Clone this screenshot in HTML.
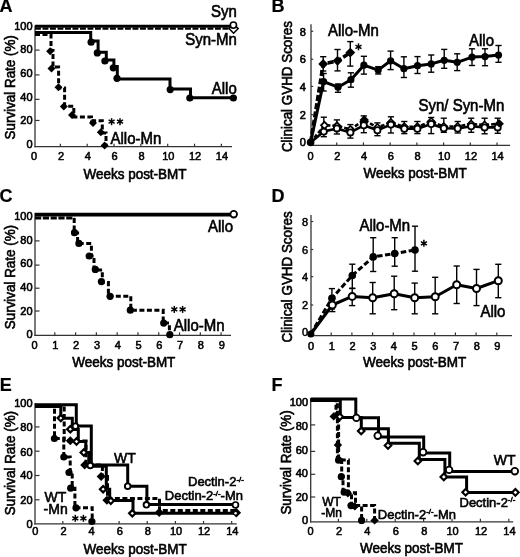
<!DOCTYPE html>
<html><head><meta charset="utf-8"><style>
html,body{margin:0;padding:0;background:#fff;}
svg{display:block;font-family:"Liberation Sans", sans-serif;will-change:transform;}
</style></head><body>
<svg width="520" height="557" viewBox="0 0 520 557">
<rect width="520" height="557" fill="#fff"/>
<text x="-0.5" y="12.4" font-size="18.00" text-anchor="start" font-weight="bold" fill="#000" stroke="#000" stroke-width="0.2">A</text>
<line x1="35.00" y1="25.50" x2="35.00" y2="147.30" stroke="#333" stroke-width="1.3" stroke-linecap="butt"/>
<line x1="34.40" y1="146.70" x2="232.00" y2="146.70" stroke="#333" stroke-width="1.3" stroke-linecap="butt"/>
<text x="32.6" y="147.9" font-size="11.00" text-anchor="end" font-weight="normal" fill="#000" stroke="#000" stroke-width="0.6">0</text>
<line x1="35.00" y1="120.46" x2="39.50" y2="120.46" stroke="#333" stroke-width="1.2" stroke-linecap="butt"/>
<text x="32.6" y="124.30000000000001" font-size="11.00" text-anchor="end" font-weight="normal" fill="#000" stroke="#000" stroke-width="0.6">20</text>
<line x1="35.00" y1="99.35" x2="39.50" y2="99.35" stroke="#333" stroke-width="1.2" stroke-linecap="butt"/>
<text x="32.6" y="100.55000000000001" font-size="11.00" text-anchor="end" font-weight="normal" fill="#000" stroke="#000" stroke-width="0.6">40</text>
<line x1="35.00" y1="74.90" x2="39.50" y2="74.90" stroke="#333" stroke-width="1.2" stroke-linecap="butt"/>
<text x="32.6" y="76.9" font-size="11.00" text-anchor="end" font-weight="normal" fill="#000" stroke="#000" stroke-width="0.6">60</text>
<line x1="35.00" y1="50.10" x2="39.50" y2="50.10" stroke="#333" stroke-width="1.2" stroke-linecap="butt"/>
<text x="32.6" y="53.3" font-size="11.00" text-anchor="end" font-weight="normal" fill="#000" stroke="#000" stroke-width="0.6">80</text>
<text x="32.6" y="29.7" font-size="11.00" text-anchor="end" font-weight="normal" fill="#000" stroke="#000" stroke-width="0.6">100</text>
<text x="34.1" y="159.8" font-size="11.00" text-anchor="middle" font-weight="normal" fill="#000" stroke="#000" stroke-width="0.55">0</text>
<line x1="60.34" y1="146.70" x2="60.34" y2="143.70" stroke="#333" stroke-width="1.2" stroke-linecap="butt"/>
<text x="60.940000000000005" y="159.8" font-size="11.00" text-anchor="middle" font-weight="normal" fill="#000" stroke="#000" stroke-width="0.55">2</text>
<line x1="87.18" y1="146.70" x2="87.18" y2="143.70" stroke="#333" stroke-width="1.2" stroke-linecap="butt"/>
<text x="87.78" y="159.8" font-size="11.00" text-anchor="middle" font-weight="normal" fill="#000" stroke="#000" stroke-width="0.55">4</text>
<line x1="114.02" y1="146.70" x2="114.02" y2="143.70" stroke="#333" stroke-width="1.2" stroke-linecap="butt"/>
<text x="114.61999999999999" y="159.8" font-size="11.00" text-anchor="middle" font-weight="normal" fill="#000" stroke="#000" stroke-width="0.55">6</text>
<line x1="140.86" y1="146.70" x2="140.86" y2="143.70" stroke="#333" stroke-width="1.2" stroke-linecap="butt"/>
<text x="141.46" y="159.8" font-size="11.00" text-anchor="middle" font-weight="normal" fill="#000" stroke="#000" stroke-width="0.55">8</text>
<line x1="167.70" y1="146.70" x2="167.70" y2="143.70" stroke="#333" stroke-width="1.2" stroke-linecap="butt"/>
<text x="168.29999999999998" y="159.8" font-size="11.00" text-anchor="middle" font-weight="normal" fill="#000" stroke="#000" stroke-width="0.55">10</text>
<line x1="194.54" y1="146.70" x2="194.54" y2="143.70" stroke="#333" stroke-width="1.2" stroke-linecap="butt"/>
<text x="195.14" y="159.8" font-size="11.00" text-anchor="middle" font-weight="normal" fill="#000" stroke="#000" stroke-width="0.55">12</text>
<line x1="221.38" y1="146.70" x2="221.38" y2="143.70" stroke="#333" stroke-width="1.2" stroke-linecap="butt"/>
<text x="221.98" y="159.8" font-size="11.00" text-anchor="middle" font-weight="normal" fill="#000" stroke="#000" stroke-width="0.55">14</text>
<text x="135" y="178.9" font-size="13.91" text-anchor="middle" font-weight="normal" fill="#000" stroke="#000" stroke-width="0.6" transform="translate(135 178.9) scale(0.9709 1) translate(-135 -178.9)">Weeks post-BMT</text>
<text x="14.8" y="87.3" font-size="13.80" text-anchor="middle" font-weight="normal" fill="#000" stroke="#000" stroke-width="0.6" transform="rotate(-90 14.8 87.3) translate(14.8 87.3) scale(0.9709 1) translate(-14.8 -87.3)">Survival Rate (%)</text>
<polyline points="35.00,26.30 233.50,26.30" fill="none" stroke="#000" stroke-width="2.9" stroke-linejoin="miter" stroke-linecap="butt"/>
<polyline points="35.00,28.70 234.00,28.70" fill="none" stroke="#000" stroke-width="2.3" stroke-linejoin="miter" stroke-linecap="butt" stroke-dasharray="5.9 1.6"/>
<polyline points="35.00,32.40 90.70,32.40 90.70,41.00 98.10,41.00 98.10,52.30 106.30,52.30 106.30,60.10 113.90,60.10 113.90,66.50 117.30,66.50 117.30,79.00 170.00,79.00 170.00,89.00 190.50,89.00 190.50,97.70 233.40,97.70 233.40,97.70" fill="none" stroke="#000" stroke-width="3.0" stroke-linejoin="miter" stroke-linecap="butt"/>
<circle cx="91.10" cy="42.20" r="3.6" fill="#000" stroke="#000" stroke-width="0"/>
<circle cx="97.30" cy="52.90" r="3.6" fill="#000" stroke="#000" stroke-width="0"/>
<circle cx="104.90" cy="61.00" r="3.6" fill="#000" stroke="#000" stroke-width="0"/>
<circle cx="113.30" cy="67.80" r="3.6" fill="#000" stroke="#000" stroke-width="0"/>
<circle cx="117.00" cy="78.30" r="3.6" fill="#000" stroke="#000" stroke-width="0"/>
<circle cx="170.20" cy="89.60" r="3.6" fill="#000" stroke="#000" stroke-width="0"/>
<circle cx="189.80" cy="98.00" r="3.6" fill="#000" stroke="#000" stroke-width="0"/>
<circle cx="233.40" cy="98.00" r="3.6" fill="#000" stroke="#000" stroke-width="0"/>
<polyline points="35.00,34.40 51.00,34.40 51.00,50.50 53.00,50.50 53.00,67.00 58.60,67.00 58.60,88.00 64.60,88.00 64.60,106.20 73.80,106.20 73.80,117.00 91.50,117.00 91.50,120.80 102.30,120.80 102.30,133.00 106.00,133.00 106.00,146.00" fill="none" stroke="#000" stroke-width="3.0" stroke-linejoin="miter" stroke-linecap="butt" stroke-dasharray="5 2.5"/>
<polygon points="50.10,47.20 54.10,51.20 50.10,55.20 46.10,51.20" fill="#000" stroke="#000" stroke-width="0"/>
<polygon points="51.50,64.50 55.50,68.50 51.50,72.50 47.50,68.50" fill="#000" stroke="#000" stroke-width="0"/>
<polygon points="58.50,83.20 62.50,87.20 58.50,91.20 54.50,87.20" fill="#000" stroke="#000" stroke-width="0"/>
<polygon points="63.80,102.60 67.80,106.60 63.80,110.60 59.80,106.60" fill="#000" stroke="#000" stroke-width="0"/>
<polygon points="72.00,110.90 76.00,114.90 72.00,118.90 68.00,114.90" fill="#000" stroke="#000" stroke-width="0"/>
<polygon points="93.00,119.00 97.00,123.00 93.00,127.00 89.00,123.00" fill="#000" stroke="#000" stroke-width="0"/>
<polygon points="100.80,128.30 104.80,132.30 100.80,136.30 96.80,132.30" fill="#000" stroke="#000" stroke-width="0"/>
<polygon points="104.60,141.40 108.60,145.40 104.60,149.40 100.60,145.40" fill="#000" stroke="#000" stroke-width="0"/>
<polygon points="233.60,24.00 238.20,28.60 233.60,33.20 229.00,28.60" fill="#fff" stroke="#000" stroke-width="1.5"/>
<circle cx="233.40" cy="25.10" r="3.1" fill="#fff" stroke="#000" stroke-width="1.6"/>
<text x="236.8" y="17.4" font-size="15.90" text-anchor="end" font-weight="normal" fill="#000" stroke="#000" stroke-width="0.6" transform="translate(236.8 17.4) scale(0.9434 1) translate(-236.8 -17.4)">Syn</text>
<text x="236.8" y="45.0" font-size="15.90" text-anchor="end" font-weight="normal" fill="#000" stroke="#000" stroke-width="0.6" transform="translate(236.8 45.0) scale(0.9434 1) translate(-236.8 -45.0)">Syn-Mn</text>
<text x="236.8" y="93.60000000000001" font-size="15.90" text-anchor="end" font-weight="normal" fill="#000" stroke="#000" stroke-width="0.6" transform="translate(236.8 93.60000000000001) scale(0.9434 1) translate(-236.8 -93.60000000000001)">Allo</text>
<text x="110.5" y="143.9" font-size="15.90" text-anchor="start" font-weight="normal" fill="#000" stroke="#000" stroke-width="0.6" transform="translate(110.5 143.9) scale(0.9434 1) translate(-110.5 -143.9)">Allo-Mn</text>
<line x1="111.60" y1="118.20" x2="111.60" y2="125.20" stroke="#000" stroke-width="1.5" stroke-linecap="butt"/>
<line x1="108.57" y1="119.95" x2="114.63" y2="123.45" stroke="#000" stroke-width="1.5" stroke-linecap="butt"/>
<line x1="114.63" y1="119.95" x2="108.57" y2="123.45" stroke="#000" stroke-width="1.5" stroke-linecap="butt"/>
<circle cx="111.60" cy="121.70" r="1.3" fill="#000" stroke="#000" stroke-width="0"/>
<line x1="120.00" y1="118.20" x2="120.00" y2="125.20" stroke="#000" stroke-width="1.5" stroke-linecap="butt"/>
<line x1="116.97" y1="119.95" x2="123.03" y2="123.45" stroke="#000" stroke-width="1.5" stroke-linecap="butt"/>
<line x1="123.03" y1="119.95" x2="116.97" y2="123.45" stroke="#000" stroke-width="1.5" stroke-linecap="butt"/>
<circle cx="120.00" cy="121.70" r="1.3" fill="#000" stroke="#000" stroke-width="0"/>
<text x="271.6" y="12.4" font-size="18.00" text-anchor="start" font-weight="bold" fill="#000" stroke="#000" stroke-width="0.2">B</text>
<line x1="311.00" y1="24.30" x2="311.00" y2="146.00" stroke="#333" stroke-width="1.3" stroke-linecap="butt"/>
<line x1="310.40" y1="145.40" x2="510.00" y2="145.40" stroke="#333" stroke-width="1.3" stroke-linecap="butt"/>
<text x="305.9" y="145.8" font-size="11.00" text-anchor="end" font-weight="normal" fill="#000" stroke="#000" stroke-width="0.6">0</text>
<line x1="311.00" y1="114.70" x2="313.20" y2="114.70" stroke="#333" stroke-width="1.2" stroke-linecap="butt"/>
<text x="305.9" y="119.10000000000001" font-size="11.00" text-anchor="end" font-weight="normal" fill="#000" stroke="#000" stroke-width="0.6">2</text>
<line x1="311.00" y1="86.40" x2="313.20" y2="86.40" stroke="#333" stroke-width="1.2" stroke-linecap="butt"/>
<text x="305.9" y="91.10000000000001" font-size="11.00" text-anchor="end" font-weight="normal" fill="#000" stroke="#000" stroke-width="0.6">4</text>
<line x1="311.00" y1="59.20" x2="313.20" y2="59.20" stroke="#333" stroke-width="1.2" stroke-linecap="butt"/>
<text x="305.9" y="63.3" font-size="11.00" text-anchor="end" font-weight="normal" fill="#000" stroke="#000" stroke-width="0.6">6</text>
<line x1="311.00" y1="31.25" x2="313.20" y2="31.25" stroke="#333" stroke-width="1.2" stroke-linecap="butt"/>
<text x="305.9" y="35.6" font-size="11.00" text-anchor="end" font-weight="normal" fill="#000" stroke="#000" stroke-width="0.6">8</text>
<text x="310.6" y="159.9" font-size="11.00" text-anchor="middle" font-weight="normal" fill="#000" stroke="#000" stroke-width="0.55">0</text>
<line x1="336.72" y1="145.40" x2="336.72" y2="142.40" stroke="#333" stroke-width="1.2" stroke-linecap="butt"/>
<text x="337.32000000000005" y="159.9" font-size="11.00" text-anchor="middle" font-weight="normal" fill="#000" stroke="#000" stroke-width="0.55">2</text>
<line x1="363.44" y1="145.40" x2="363.44" y2="142.40" stroke="#333" stroke-width="1.2" stroke-linecap="butt"/>
<text x="364.04" y="159.9" font-size="11.00" text-anchor="middle" font-weight="normal" fill="#000" stroke="#000" stroke-width="0.55">4</text>
<line x1="390.16" y1="145.40" x2="390.16" y2="142.40" stroke="#333" stroke-width="1.2" stroke-linecap="butt"/>
<text x="390.76" y="159.9" font-size="11.00" text-anchor="middle" font-weight="normal" fill="#000" stroke="#000" stroke-width="0.55">6</text>
<line x1="416.88" y1="145.40" x2="416.88" y2="142.40" stroke="#333" stroke-width="1.2" stroke-linecap="butt"/>
<text x="417.48" y="159.9" font-size="11.00" text-anchor="middle" font-weight="normal" fill="#000" stroke="#000" stroke-width="0.55">8</text>
<line x1="443.60" y1="145.40" x2="443.60" y2="142.40" stroke="#333" stroke-width="1.2" stroke-linecap="butt"/>
<text x="444.20000000000005" y="159.9" font-size="11.00" text-anchor="middle" font-weight="normal" fill="#000" stroke="#000" stroke-width="0.55">10</text>
<line x1="470.32" y1="145.40" x2="470.32" y2="142.40" stroke="#333" stroke-width="1.2" stroke-linecap="butt"/>
<text x="470.92" y="159.9" font-size="11.00" text-anchor="middle" font-weight="normal" fill="#000" stroke="#000" stroke-width="0.55">12</text>
<line x1="497.04" y1="145.40" x2="497.04" y2="142.40" stroke="#333" stroke-width="1.2" stroke-linecap="butt"/>
<text x="497.64" y="159.9" font-size="11.00" text-anchor="middle" font-weight="normal" fill="#000" stroke="#000" stroke-width="0.55">14</text>
<text x="415.1" y="178.20000000000002" font-size="13.91" text-anchor="middle" font-weight="normal" fill="#000" stroke="#000" stroke-width="0.6" transform="translate(415.1 178.20000000000002) scale(0.9709 1) translate(-415.1 -178.20000000000002)">Weeks post-BMT</text>
<text x="292.3" y="86.6" font-size="13.80" text-anchor="middle" font-weight="normal" fill="#000" stroke="#000" stroke-width="0.6" transform="rotate(-90 292.3 86.6) translate(292.3 86.6) scale(0.9709 1) translate(-292.3 -86.6)">Clinical GVHD Scores</text>
<line x1="323.80" y1="117.20" x2="323.80" y2="136.70" stroke="#000" stroke-width="1.4" stroke-linecap="butt"/>
<line x1="320.70" y1="117.20" x2="326.90" y2="117.20" stroke="#000" stroke-width="1.4" stroke-linecap="butt"/>
<line x1="320.70" y1="136.70" x2="326.90" y2="136.70" stroke="#000" stroke-width="1.4" stroke-linecap="butt"/>
<line x1="336.90" y1="119.90" x2="336.90" y2="134.00" stroke="#000" stroke-width="1.4" stroke-linecap="butt"/>
<line x1="333.80" y1="119.90" x2="340.00" y2="119.90" stroke="#000" stroke-width="1.4" stroke-linecap="butt"/>
<line x1="333.80" y1="134.00" x2="340.00" y2="134.00" stroke="#000" stroke-width="1.4" stroke-linecap="butt"/>
<line x1="350.40" y1="124.60" x2="350.40" y2="138.10" stroke="#000" stroke-width="1.4" stroke-linecap="butt"/>
<line x1="347.30" y1="124.60" x2="353.50" y2="124.60" stroke="#000" stroke-width="1.4" stroke-linecap="butt"/>
<line x1="347.30" y1="138.10" x2="353.50" y2="138.10" stroke="#000" stroke-width="1.4" stroke-linecap="butt"/>
<line x1="363.80" y1="115.90" x2="363.80" y2="132.70" stroke="#000" stroke-width="1.4" stroke-linecap="butt"/>
<line x1="360.70" y1="115.90" x2="366.90" y2="115.90" stroke="#000" stroke-width="1.4" stroke-linecap="butt"/>
<line x1="360.70" y1="132.70" x2="366.90" y2="132.70" stroke="#000" stroke-width="1.4" stroke-linecap="butt"/>
<line x1="377.40" y1="122.90" x2="377.40" y2="135.70" stroke="#000" stroke-width="1.4" stroke-linecap="butt"/>
<line x1="374.30" y1="122.90" x2="380.50" y2="122.90" stroke="#000" stroke-width="1.4" stroke-linecap="butt"/>
<line x1="374.30" y1="135.70" x2="380.50" y2="135.70" stroke="#000" stroke-width="1.4" stroke-linecap="butt"/>
<line x1="390.90" y1="116.80" x2="390.90" y2="133.00" stroke="#000" stroke-width="1.4" stroke-linecap="butt"/>
<line x1="387.80" y1="116.80" x2="394.00" y2="116.80" stroke="#000" stroke-width="1.4" stroke-linecap="butt"/>
<line x1="387.80" y1="133.00" x2="394.00" y2="133.00" stroke="#000" stroke-width="1.4" stroke-linecap="butt"/>
<line x1="404.30" y1="121.50" x2="404.30" y2="133.60" stroke="#000" stroke-width="1.4" stroke-linecap="butt"/>
<line x1="401.20" y1="121.50" x2="407.40" y2="121.50" stroke="#000" stroke-width="1.4" stroke-linecap="butt"/>
<line x1="401.20" y1="133.60" x2="407.40" y2="133.60" stroke="#000" stroke-width="1.4" stroke-linecap="butt"/>
<line x1="417.40" y1="121.50" x2="417.40" y2="133.60" stroke="#000" stroke-width="1.4" stroke-linecap="butt"/>
<line x1="414.30" y1="121.50" x2="420.50" y2="121.50" stroke="#000" stroke-width="1.4" stroke-linecap="butt"/>
<line x1="414.30" y1="133.60" x2="420.50" y2="133.60" stroke="#000" stroke-width="1.4" stroke-linecap="butt"/>
<line x1="431.20" y1="117.50" x2="431.20" y2="133.60" stroke="#000" stroke-width="1.4" stroke-linecap="butt"/>
<line x1="428.10" y1="117.50" x2="434.30" y2="117.50" stroke="#000" stroke-width="1.4" stroke-linecap="butt"/>
<line x1="428.10" y1="133.60" x2="434.30" y2="133.60" stroke="#000" stroke-width="1.4" stroke-linecap="butt"/>
<line x1="443.80" y1="118.20" x2="443.80" y2="132.30" stroke="#000" stroke-width="1.4" stroke-linecap="butt"/>
<line x1="440.70" y1="118.20" x2="446.90" y2="118.20" stroke="#000" stroke-width="1.4" stroke-linecap="butt"/>
<line x1="440.70" y1="132.30" x2="446.90" y2="132.30" stroke="#000" stroke-width="1.4" stroke-linecap="butt"/>
<line x1="457.70" y1="121.50" x2="457.70" y2="133.00" stroke="#000" stroke-width="1.4" stroke-linecap="butt"/>
<line x1="454.60" y1="121.50" x2="460.80" y2="121.50" stroke="#000" stroke-width="1.4" stroke-linecap="butt"/>
<line x1="454.60" y1="133.00" x2="460.80" y2="133.00" stroke="#000" stroke-width="1.4" stroke-linecap="butt"/>
<line x1="471.20" y1="118.20" x2="471.20" y2="132.30" stroke="#000" stroke-width="1.4" stroke-linecap="butt"/>
<line x1="468.10" y1="118.20" x2="474.30" y2="118.20" stroke="#000" stroke-width="1.4" stroke-linecap="butt"/>
<line x1="468.10" y1="132.30" x2="474.30" y2="132.30" stroke="#000" stroke-width="1.4" stroke-linecap="butt"/>
<line x1="484.60" y1="118.20" x2="484.60" y2="133.80" stroke="#000" stroke-width="1.4" stroke-linecap="butt"/>
<line x1="481.50" y1="118.20" x2="487.70" y2="118.20" stroke="#000" stroke-width="1.4" stroke-linecap="butt"/>
<line x1="481.50" y1="133.80" x2="487.70" y2="133.80" stroke="#000" stroke-width="1.4" stroke-linecap="butt"/>
<line x1="497.70" y1="118.20" x2="497.70" y2="133.30" stroke="#000" stroke-width="1.4" stroke-linecap="butt"/>
<line x1="494.60" y1="118.20" x2="500.80" y2="118.20" stroke="#000" stroke-width="1.4" stroke-linecap="butt"/>
<line x1="494.60" y1="133.30" x2="500.80" y2="133.30" stroke="#000" stroke-width="1.4" stroke-linecap="butt"/>
<polyline points="310.60,142.40 324.50,125.30 337.00,125.80 350.40,129.50 364.20,119.90 377.40,127.50 390.90,122.50 404.30,126.80 417.40,126.80 431.20,121.50 443.80,126.50 457.70,126.50 471.20,124.00 484.60,125.00 499.20,123.80" fill="none" stroke="#000" stroke-width="2.6" stroke-linejoin="round" stroke-linecap="butt" stroke-dasharray="4 2"/>
<polyline points="310.60,142.40 323.80,131.60 336.90,128.40 350.40,132.40 363.80,125.30 377.40,130.30 390.90,124.60 404.30,128.70 417.40,128.70 431.20,124.00 443.80,128.20 457.70,128.50 471.20,126.20 484.60,127.40 497.70,127.40" fill="none" stroke="#000" stroke-width="2.6" stroke-linejoin="round" stroke-linecap="butt"/>
<polygon points="324.50,121.80 328.00,125.30 324.50,128.80 321.00,125.30" fill="#fff" stroke="#000" stroke-width="1.7"/>
<polygon points="337.00,122.30 340.50,125.80 337.00,129.30 333.50,125.80" fill="#fff" stroke="#000" stroke-width="1.7"/>
<polygon points="350.40,126.00 353.90,129.50 350.40,133.00 346.90,129.50" fill="#fff" stroke="#000" stroke-width="1.7"/>
<polygon points="364.20,116.40 367.70,119.90 364.20,123.40 360.70,119.90" fill="#fff" stroke="#000" stroke-width="1.7"/>
<polygon points="377.40,124.00 380.90,127.50 377.40,131.00 373.90,127.50" fill="#fff" stroke="#000" stroke-width="1.7"/>
<polygon points="390.90,119.00 394.40,122.50 390.90,126.00 387.40,122.50" fill="#fff" stroke="#000" stroke-width="1.7"/>
<polygon points="404.30,123.30 407.80,126.80 404.30,130.30 400.80,126.80" fill="#fff" stroke="#000" stroke-width="1.7"/>
<polygon points="417.40,123.30 420.90,126.80 417.40,130.30 413.90,126.80" fill="#fff" stroke="#000" stroke-width="1.7"/>
<polygon points="431.20,118.00 434.70,121.50 431.20,125.00 427.70,121.50" fill="#fff" stroke="#000" stroke-width="1.7"/>
<polygon points="443.80,123.00 447.30,126.50 443.80,130.00 440.30,126.50" fill="#fff" stroke="#000" stroke-width="1.7"/>
<polygon points="457.70,123.00 461.20,126.50 457.70,130.00 454.20,126.50" fill="#fff" stroke="#000" stroke-width="1.7"/>
<polygon points="471.20,120.50 474.70,124.00 471.20,127.50 467.70,124.00" fill="#fff" stroke="#000" stroke-width="1.7"/>
<polygon points="484.60,121.50 488.10,125.00 484.60,128.50 481.10,125.00" fill="#fff" stroke="#000" stroke-width="1.7"/>
<polygon points="499.20,120.30 502.70,123.80 499.20,127.30 495.70,123.80" fill="#fff" stroke="#000" stroke-width="1.7"/>
<circle cx="323.80" cy="131.60" r="3.1" fill="#fff" stroke="#000" stroke-width="1.8"/>
<circle cx="336.90" cy="128.40" r="3.1" fill="#fff" stroke="#000" stroke-width="1.8"/>
<circle cx="350.40" cy="132.40" r="3.1" fill="#fff" stroke="#000" stroke-width="1.8"/>
<circle cx="363.80" cy="125.30" r="3.1" fill="#fff" stroke="#000" stroke-width="1.8"/>
<circle cx="377.40" cy="130.30" r="3.1" fill="#fff" stroke="#000" stroke-width="1.8"/>
<circle cx="390.90" cy="124.60" r="3.1" fill="#fff" stroke="#000" stroke-width="1.8"/>
<circle cx="404.30" cy="128.70" r="3.1" fill="#fff" stroke="#000" stroke-width="1.8"/>
<circle cx="417.40" cy="128.70" r="3.1" fill="#fff" stroke="#000" stroke-width="1.8"/>
<circle cx="431.20" cy="124.00" r="3.1" fill="#fff" stroke="#000" stroke-width="1.8"/>
<circle cx="443.80" cy="128.20" r="3.1" fill="#fff" stroke="#000" stroke-width="1.8"/>
<circle cx="457.70" cy="128.50" r="3.1" fill="#fff" stroke="#000" stroke-width="1.8"/>
<circle cx="471.20" cy="126.20" r="3.1" fill="#fff" stroke="#000" stroke-width="1.8"/>
<circle cx="484.60" cy="127.40" r="3.1" fill="#fff" stroke="#000" stroke-width="1.8"/>
<circle cx="497.70" cy="127.40" r="3.1" fill="#fff" stroke="#000" stroke-width="1.8"/>
<polygon points="364.20,116.30 367.80,119.90 364.20,123.50 360.60,119.90" fill="#000" stroke="#000" stroke-width="0"/>
<polygon points="499.20,120.20 502.80,123.80 499.20,127.40 495.60,123.80" fill="#000" stroke="#000" stroke-width="0"/>
<line x1="323.60" y1="73.50" x2="323.60" y2="91.00" stroke="#000" stroke-width="1.4" stroke-linecap="butt"/>
<line x1="320.50" y1="73.50" x2="326.70" y2="73.50" stroke="#000" stroke-width="1.4" stroke-linecap="butt"/>
<line x1="320.50" y1="91.00" x2="326.70" y2="91.00" stroke="#000" stroke-width="1.4" stroke-linecap="butt"/>
<line x1="338.00" y1="84.00" x2="338.00" y2="92.30" stroke="#000" stroke-width="1.4" stroke-linecap="butt"/>
<line x1="334.90" y1="84.00" x2="341.10" y2="84.00" stroke="#000" stroke-width="1.4" stroke-linecap="butt"/>
<line x1="334.90" y1="92.30" x2="341.10" y2="92.30" stroke="#000" stroke-width="1.4" stroke-linecap="butt"/>
<line x1="350.90" y1="72.80" x2="350.90" y2="87.20" stroke="#000" stroke-width="1.4" stroke-linecap="butt"/>
<line x1="347.80" y1="72.80" x2="354.00" y2="72.80" stroke="#000" stroke-width="1.4" stroke-linecap="butt"/>
<line x1="347.80" y1="87.20" x2="354.00" y2="87.20" stroke="#000" stroke-width="1.4" stroke-linecap="butt"/>
<line x1="363.90" y1="56.30" x2="363.90" y2="74.10" stroke="#000" stroke-width="1.4" stroke-linecap="butt"/>
<line x1="360.80" y1="56.30" x2="367.00" y2="56.30" stroke="#000" stroke-width="1.4" stroke-linecap="butt"/>
<line x1="360.80" y1="74.10" x2="367.00" y2="74.10" stroke="#000" stroke-width="1.4" stroke-linecap="butt"/>
<line x1="378.20" y1="66.70" x2="378.20" y2="74.00" stroke="#000" stroke-width="1.4" stroke-linecap="butt"/>
<line x1="375.10" y1="66.70" x2="381.30" y2="66.70" stroke="#000" stroke-width="1.4" stroke-linecap="butt"/>
<line x1="375.10" y1="74.00" x2="381.30" y2="74.00" stroke="#000" stroke-width="1.4" stroke-linecap="butt"/>
<line x1="390.60" y1="51.10" x2="390.60" y2="69.60" stroke="#000" stroke-width="1.4" stroke-linecap="butt"/>
<line x1="387.50" y1="51.10" x2="393.70" y2="51.10" stroke="#000" stroke-width="1.4" stroke-linecap="butt"/>
<line x1="387.50" y1="69.60" x2="393.70" y2="69.60" stroke="#000" stroke-width="1.4" stroke-linecap="butt"/>
<line x1="403.90" y1="56.80" x2="403.90" y2="77.50" stroke="#000" stroke-width="1.4" stroke-linecap="butt"/>
<line x1="400.80" y1="56.80" x2="407.00" y2="56.80" stroke="#000" stroke-width="1.4" stroke-linecap="butt"/>
<line x1="400.80" y1="77.50" x2="407.00" y2="77.50" stroke="#000" stroke-width="1.4" stroke-linecap="butt"/>
<line x1="417.50" y1="56.60" x2="417.50" y2="73.50" stroke="#000" stroke-width="1.4" stroke-linecap="butt"/>
<line x1="414.40" y1="56.60" x2="420.60" y2="56.60" stroke="#000" stroke-width="1.4" stroke-linecap="butt"/>
<line x1="414.40" y1="73.50" x2="420.60" y2="73.50" stroke="#000" stroke-width="1.4" stroke-linecap="butt"/>
<line x1="431.20" y1="55.00" x2="431.20" y2="72.20" stroke="#000" stroke-width="1.4" stroke-linecap="butt"/>
<line x1="428.10" y1="55.00" x2="434.30" y2="55.00" stroke="#000" stroke-width="1.4" stroke-linecap="butt"/>
<line x1="428.10" y1="72.20" x2="434.30" y2="72.20" stroke="#000" stroke-width="1.4" stroke-linecap="butt"/>
<line x1="444.20" y1="49.40" x2="444.20" y2="68.30" stroke="#000" stroke-width="1.4" stroke-linecap="butt"/>
<line x1="441.10" y1="49.40" x2="447.30" y2="49.40" stroke="#000" stroke-width="1.4" stroke-linecap="butt"/>
<line x1="441.10" y1="68.30" x2="447.30" y2="68.30" stroke="#000" stroke-width="1.4" stroke-linecap="butt"/>
<line x1="457.20" y1="53.80" x2="457.20" y2="70.60" stroke="#000" stroke-width="1.4" stroke-linecap="butt"/>
<line x1="454.10" y1="53.80" x2="460.30" y2="53.80" stroke="#000" stroke-width="1.4" stroke-linecap="butt"/>
<line x1="454.10" y1="70.60" x2="460.30" y2="70.60" stroke="#000" stroke-width="1.4" stroke-linecap="butt"/>
<line x1="472.00" y1="48.80" x2="472.00" y2="65.50" stroke="#000" stroke-width="1.4" stroke-linecap="butt"/>
<line x1="468.90" y1="48.80" x2="475.10" y2="48.80" stroke="#000" stroke-width="1.4" stroke-linecap="butt"/>
<line x1="468.90" y1="65.50" x2="475.10" y2="65.50" stroke="#000" stroke-width="1.4" stroke-linecap="butt"/>
<line x1="485.00" y1="48.80" x2="485.00" y2="65.70" stroke="#000" stroke-width="1.4" stroke-linecap="butt"/>
<line x1="481.90" y1="48.80" x2="488.10" y2="48.80" stroke="#000" stroke-width="1.4" stroke-linecap="butt"/>
<line x1="481.90" y1="65.70" x2="488.10" y2="65.70" stroke="#000" stroke-width="1.4" stroke-linecap="butt"/>
<line x1="498.50" y1="45.50" x2="498.50" y2="62.30" stroke="#000" stroke-width="1.4" stroke-linecap="butt"/>
<line x1="495.40" y1="45.50" x2="501.60" y2="45.50" stroke="#000" stroke-width="1.4" stroke-linecap="butt"/>
<line x1="495.40" y1="62.30" x2="501.60" y2="62.30" stroke="#000" stroke-width="1.4" stroke-linecap="butt"/>
<polyline points="310.60,142.40 323.60,81.60 338.00,87.20 350.90,79.70 363.90,65.20 378.20,70.10 390.60,60.80 403.90,68.70 417.50,65.70 431.20,63.90 444.20,60.30 457.20,62.30 472.00,57.10 485.00,56.60 498.50,55.10" fill="none" stroke="#000" stroke-width="3.0" stroke-linejoin="round" stroke-linecap="butt"/>
<circle cx="323.60" cy="81.60" r="3.6" fill="#000" stroke="#000" stroke-width="0"/>
<circle cx="338.00" cy="87.20" r="3.6" fill="#000" stroke="#000" stroke-width="0"/>
<circle cx="350.90" cy="79.70" r="3.6" fill="#000" stroke="#000" stroke-width="0"/>
<circle cx="363.90" cy="65.20" r="3.6" fill="#000" stroke="#000" stroke-width="0"/>
<circle cx="378.20" cy="70.10" r="3.6" fill="#000" stroke="#000" stroke-width="0"/>
<circle cx="390.60" cy="60.80" r="3.6" fill="#000" stroke="#000" stroke-width="0"/>
<circle cx="403.90" cy="68.70" r="3.6" fill="#000" stroke="#000" stroke-width="0"/>
<circle cx="417.50" cy="65.70" r="3.6" fill="#000" stroke="#000" stroke-width="0"/>
<circle cx="431.20" cy="63.90" r="3.6" fill="#000" stroke="#000" stroke-width="0"/>
<circle cx="444.20" cy="60.30" r="3.6" fill="#000" stroke="#000" stroke-width="0"/>
<circle cx="457.20" cy="62.30" r="3.6" fill="#000" stroke="#000" stroke-width="0"/>
<circle cx="472.00" cy="57.10" r="3.6" fill="#000" stroke="#000" stroke-width="0"/>
<circle cx="485.00" cy="56.60" r="3.6" fill="#000" stroke="#000" stroke-width="0"/>
<circle cx="498.50" cy="55.10" r="3.6" fill="#000" stroke="#000" stroke-width="0"/>
<line x1="323.20" y1="56.70" x2="323.20" y2="71.00" stroke="#000" stroke-width="1.4" stroke-linecap="butt"/>
<line x1="320.10" y1="56.70" x2="326.30" y2="56.70" stroke="#000" stroke-width="1.4" stroke-linecap="butt"/>
<line x1="320.10" y1="71.00" x2="326.30" y2="71.00" stroke="#000" stroke-width="1.4" stroke-linecap="butt"/>
<line x1="337.50" y1="49.50" x2="337.50" y2="70.90" stroke="#000" stroke-width="1.4" stroke-linecap="butt"/>
<line x1="334.40" y1="49.50" x2="340.60" y2="49.50" stroke="#000" stroke-width="1.4" stroke-linecap="butt"/>
<line x1="334.40" y1="70.90" x2="340.60" y2="70.90" stroke="#000" stroke-width="1.4" stroke-linecap="butt"/>
<line x1="350.30" y1="41.60" x2="350.30" y2="66.10" stroke="#000" stroke-width="1.4" stroke-linecap="butt"/>
<line x1="347.20" y1="41.60" x2="353.40" y2="41.60" stroke="#000" stroke-width="1.4" stroke-linecap="butt"/>
<line x1="347.20" y1="66.10" x2="353.40" y2="66.10" stroke="#000" stroke-width="1.4" stroke-linecap="butt"/>
<polyline points="310.60,142.40 323.20,64.00 337.50,60.80 350.30,52.60" fill="none" stroke="#000" stroke-width="3.5" stroke-linejoin="miter" stroke-linecap="butt" stroke-dasharray="6 2.4"/>
<polygon points="323.20,59.10 328.10,64.00 323.20,68.90 318.30,64.00" fill="#000" stroke="#000" stroke-width="0"/>
<polygon points="337.50,55.90 342.40,60.80 337.50,65.70 332.60,60.80" fill="#000" stroke="#000" stroke-width="0"/>
<polygon points="350.30,47.70 355.20,52.60 350.30,57.50 345.40,52.60" fill="#000" stroke="#000" stroke-width="0"/>
<circle cx="310.60" cy="142.40" r="3.8" fill="#000" stroke="#000" stroke-width="0"/>
<text x="328.0" y="35.6" font-size="15.90" text-anchor="start" font-weight="normal" fill="#000" stroke="#000" stroke-width="0.6" transform="translate(328.0 35.6) scale(0.9434 1) translate(-328.0 -35.6)">Allo-Mn</text>
<line x1="358.50" y1="43.30" x2="358.50" y2="50.30" stroke="#000" stroke-width="1.5" stroke-linecap="butt"/>
<line x1="355.47" y1="45.05" x2="361.53" y2="48.55" stroke="#000" stroke-width="1.5" stroke-linecap="butt"/>
<line x1="361.53" y1="45.05" x2="355.47" y2="48.55" stroke="#000" stroke-width="1.5" stroke-linecap="butt"/>
<circle cx="358.50" cy="46.80" r="1.3" fill="#000" stroke="#000" stroke-width="0"/>
<text x="469.0" y="45.9" font-size="15.90" text-anchor="start" font-weight="normal" fill="#000" stroke="#000" stroke-width="0.6" transform="translate(469.0 45.9) scale(0.9434 1) translate(-469.0 -45.9)">Allo</text>
<text x="418.5" y="111.2" font-size="15.90" text-anchor="start" font-weight="normal" fill="#000" stroke="#000" stroke-width="0.6" transform="translate(418.5 111.2) scale(0.9434 1) translate(-418.5 -111.2)">Syn/ Syn-Mn</text>
<text x="-0.4" y="201.6" font-size="18.00" text-anchor="start" font-weight="bold" fill="#000" stroke="#000" stroke-width="0.2">C</text>
<line x1="35.00" y1="213.00" x2="35.00" y2="335.90" stroke="#333" stroke-width="1.3" stroke-linecap="butt"/>
<line x1="34.40" y1="335.30" x2="231.00" y2="335.30" stroke="#333" stroke-width="1.3" stroke-linecap="butt"/>
<text x="32.6" y="338.4" font-size="11.00" text-anchor="end" font-weight="normal" fill="#000" stroke="#000" stroke-width="0.6">0</text>
<line x1="35.00" y1="311.00" x2="39.50" y2="311.00" stroke="#333" stroke-width="1.2" stroke-linecap="butt"/>
<text x="32.6" y="314.9" font-size="11.00" text-anchor="end" font-weight="normal" fill="#000" stroke="#000" stroke-width="0.6">20</text>
<line x1="35.00" y1="288.20" x2="39.50" y2="288.20" stroke="#333" stroke-width="1.2" stroke-linecap="butt"/>
<text x="32.6" y="290.79999999999995" font-size="11.00" text-anchor="end" font-weight="normal" fill="#000" stroke="#000" stroke-width="0.6">40</text>
<line x1="35.00" y1="265.10" x2="39.50" y2="265.10" stroke="#333" stroke-width="1.2" stroke-linecap="butt"/>
<text x="32.6" y="267.4" font-size="11.00" text-anchor="end" font-weight="normal" fill="#000" stroke="#000" stroke-width="0.6">60</text>
<line x1="35.00" y1="240.90" x2="39.50" y2="240.90" stroke="#333" stroke-width="1.2" stroke-linecap="butt"/>
<text x="32.6" y="243.5" font-size="11.00" text-anchor="end" font-weight="normal" fill="#000" stroke="#000" stroke-width="0.6">80</text>
<text x="32.6" y="219.70000000000002" font-size="11.00" text-anchor="end" font-weight="normal" fill="#000" stroke="#000" stroke-width="0.6">100</text>
<text x="34.6" y="349.2" font-size="11.00" text-anchor="middle" font-weight="normal" fill="#000" stroke="#000" stroke-width="0.55">0</text>
<line x1="54.79" y1="335.30" x2="54.79" y2="332.30" stroke="#333" stroke-width="1.2" stroke-linecap="butt"/>
<text x="55.39" y="349.2" font-size="11.00" text-anchor="middle" font-weight="normal" fill="#000" stroke="#000" stroke-width="0.55">1</text>
<line x1="75.58" y1="335.30" x2="75.58" y2="332.30" stroke="#333" stroke-width="1.2" stroke-linecap="butt"/>
<text x="76.17999999999999" y="349.2" font-size="11.00" text-anchor="middle" font-weight="normal" fill="#000" stroke="#000" stroke-width="0.55">2</text>
<line x1="96.37" y1="335.30" x2="96.37" y2="332.30" stroke="#333" stroke-width="1.2" stroke-linecap="butt"/>
<text x="96.97" y="349.2" font-size="11.00" text-anchor="middle" font-weight="normal" fill="#000" stroke="#000" stroke-width="0.55">3</text>
<line x1="117.16" y1="335.30" x2="117.16" y2="332.30" stroke="#333" stroke-width="1.2" stroke-linecap="butt"/>
<text x="117.75999999999999" y="349.2" font-size="11.00" text-anchor="middle" font-weight="normal" fill="#000" stroke="#000" stroke-width="0.55">4</text>
<line x1="137.95" y1="335.30" x2="137.95" y2="332.30" stroke="#333" stroke-width="1.2" stroke-linecap="butt"/>
<text x="138.54999999999998" y="349.2" font-size="11.00" text-anchor="middle" font-weight="normal" fill="#000" stroke="#000" stroke-width="0.55">5</text>
<line x1="158.74" y1="335.30" x2="158.74" y2="332.30" stroke="#333" stroke-width="1.2" stroke-linecap="butt"/>
<text x="159.34" y="349.2" font-size="11.00" text-anchor="middle" font-weight="normal" fill="#000" stroke="#000" stroke-width="0.55">6</text>
<line x1="179.53" y1="335.30" x2="179.53" y2="332.30" stroke="#333" stroke-width="1.2" stroke-linecap="butt"/>
<text x="180.13" y="349.2" font-size="11.00" text-anchor="middle" font-weight="normal" fill="#000" stroke="#000" stroke-width="0.55">7</text>
<line x1="200.32" y1="335.30" x2="200.32" y2="332.30" stroke="#333" stroke-width="1.2" stroke-linecap="butt"/>
<text x="200.92" y="349.2" font-size="11.00" text-anchor="middle" font-weight="normal" fill="#000" stroke="#000" stroke-width="0.55">8</text>
<line x1="221.11" y1="335.30" x2="221.11" y2="332.30" stroke="#333" stroke-width="1.2" stroke-linecap="butt"/>
<text x="221.70999999999998" y="349.2" font-size="11.00" text-anchor="middle" font-weight="normal" fill="#000" stroke="#000" stroke-width="0.55">9</text>
<text x="123.8" y="366.9" font-size="13.91" text-anchor="middle" font-weight="normal" fill="#000" stroke="#000" stroke-width="0.6" transform="translate(123.8 366.9) scale(0.9709 1) translate(-123.8 -366.9)">Weeks post-BMT</text>
<text x="14.8" y="277.1" font-size="13.80" text-anchor="middle" font-weight="normal" fill="#000" stroke="#000" stroke-width="0.6" transform="rotate(-90 14.8 277.1) translate(14.8 277.1) scale(0.9709 1) translate(-14.8 -277.1)">Survival Rate (%)</text>
<polyline points="35.00,214.70 233.70,214.70" fill="none" stroke="#000" stroke-width="3.8" stroke-linejoin="miter" stroke-linecap="butt"/>
<polyline points="35.00,217.90 74.20,217.90" fill="none" stroke="#000" stroke-width="3.0" stroke-linejoin="miter" stroke-linecap="butt" stroke-dasharray="6.2 1.6"/>
<polyline points="74.20,217.90 74.20,233.00 77.60,233.00 77.60,243.40 91.40,243.40 91.40,256.00 94.00,256.00 94.00,270.00 102.30,270.00 102.30,282.50 108.40,282.50 108.40,296.30 130.80,296.30 130.80,310.20 163.20,310.20 163.20,323.10 169.40,323.10 169.40,335.00" fill="none" stroke="#000" stroke-width="3.0" stroke-linejoin="miter" stroke-linecap="butt" stroke-dasharray="5 2.5"/>
<circle cx="74.50" cy="232.70" r="3.6" fill="#000" stroke="#000" stroke-width="0"/>
<circle cx="78.90" cy="243.40" r="3.6" fill="#000" stroke="#000" stroke-width="0"/>
<circle cx="89.20" cy="256.00" r="3.6" fill="#000" stroke="#000" stroke-width="0"/>
<circle cx="95.30" cy="269.40" r="3.6" fill="#000" stroke="#000" stroke-width="0"/>
<circle cx="101.40" cy="281.60" r="3.6" fill="#000" stroke="#000" stroke-width="0"/>
<circle cx="110.10" cy="296.30" r="3.6" fill="#000" stroke="#000" stroke-width="0"/>
<circle cx="130.30" cy="310.20" r="3.6" fill="#000" stroke="#000" stroke-width="0"/>
<circle cx="163.70" cy="323.10" r="3.6" fill="#000" stroke="#000" stroke-width="0"/>
<circle cx="169.80" cy="334.70" r="3.6" fill="#000" stroke="#000" stroke-width="0"/>
<circle cx="233.70" cy="214.20" r="3.3" fill="#fff" stroke="#000" stroke-width="1.8"/>
<text x="233.0" y="231.6" font-size="15.90" text-anchor="end" font-weight="normal" fill="#000" stroke="#000" stroke-width="0.6" transform="translate(233.0 231.6) scale(0.9434 1) translate(-233.0 -231.6)">Allo</text>
<text x="173.8" y="330.59999999999997" font-size="15.90" text-anchor="start" font-weight="normal" fill="#000" stroke="#000" stroke-width="0.6" transform="translate(173.8 330.59999999999997) scale(0.9434 1) translate(-173.8 -330.59999999999997)">Allo-Mn</text>
<line x1="174.30" y1="305.90" x2="174.30" y2="312.90" stroke="#000" stroke-width="1.5" stroke-linecap="butt"/>
<line x1="171.27" y1="307.65" x2="177.33" y2="311.15" stroke="#000" stroke-width="1.5" stroke-linecap="butt"/>
<line x1="177.33" y1="307.65" x2="171.27" y2="311.15" stroke="#000" stroke-width="1.5" stroke-linecap="butt"/>
<circle cx="174.30" cy="309.40" r="1.3" fill="#000" stroke="#000" stroke-width="0"/>
<line x1="182.60" y1="305.90" x2="182.60" y2="312.90" stroke="#000" stroke-width="1.5" stroke-linecap="butt"/>
<line x1="179.57" y1="307.65" x2="185.63" y2="311.15" stroke="#000" stroke-width="1.5" stroke-linecap="butt"/>
<line x1="185.63" y1="307.65" x2="179.57" y2="311.15" stroke="#000" stroke-width="1.5" stroke-linecap="butt"/>
<circle cx="182.60" cy="309.40" r="1.3" fill="#000" stroke="#000" stroke-width="0"/>
<text x="271.6" y="202.1" font-size="18.00" text-anchor="start" font-weight="bold" fill="#000" stroke="#000" stroke-width="0.2">D</text>
<line x1="311.00" y1="215.00" x2="311.00" y2="336.20" stroke="#333" stroke-width="1.3" stroke-linecap="butt"/>
<line x1="310.40" y1="335.60" x2="512.00" y2="335.60" stroke="#333" stroke-width="1.3" stroke-linecap="butt"/>
<text x="308.1" y="336.09999999999997" font-size="11.00" text-anchor="end" font-weight="normal" fill="#000" stroke="#000" stroke-width="0.5">0</text>
<line x1="311.00" y1="305.00" x2="313.20" y2="305.00" stroke="#333" stroke-width="1.2" stroke-linecap="butt"/>
<text x="308.1" y="309.4" font-size="11.00" text-anchor="end" font-weight="normal" fill="#000" stroke="#000" stroke-width="0.5">2</text>
<line x1="311.00" y1="276.70" x2="313.20" y2="276.70" stroke="#333" stroke-width="1.2" stroke-linecap="butt"/>
<text x="308.1" y="281.4" font-size="11.00" text-anchor="end" font-weight="normal" fill="#000" stroke="#000" stroke-width="0.5">4</text>
<line x1="311.00" y1="249.50" x2="313.20" y2="249.50" stroke="#333" stroke-width="1.2" stroke-linecap="butt"/>
<text x="308.1" y="253.6" font-size="11.00" text-anchor="end" font-weight="normal" fill="#000" stroke="#000" stroke-width="0.5">6</text>
<line x1="311.00" y1="221.50" x2="313.20" y2="221.50" stroke="#333" stroke-width="1.2" stroke-linecap="butt"/>
<text x="308.1" y="225.9" font-size="11.00" text-anchor="end" font-weight="normal" fill="#000" stroke="#000" stroke-width="0.5">8</text>
<text x="311.1" y="350.0" font-size="11.00" text-anchor="middle" font-weight="normal" fill="#000" stroke="#000" stroke-width="0.55">0</text>
<line x1="331.20" y1="335.60" x2="331.20" y2="332.60" stroke="#333" stroke-width="1.2" stroke-linecap="butt"/>
<text x="331.8" y="350.0" font-size="11.00" text-anchor="middle" font-weight="normal" fill="#000" stroke="#000" stroke-width="0.55">1</text>
<line x1="351.90" y1="335.60" x2="351.90" y2="332.60" stroke="#333" stroke-width="1.2" stroke-linecap="butt"/>
<text x="352.5" y="350.0" font-size="11.00" text-anchor="middle" font-weight="normal" fill="#000" stroke="#000" stroke-width="0.55">2</text>
<line x1="372.60" y1="335.60" x2="372.60" y2="332.60" stroke="#333" stroke-width="1.2" stroke-linecap="butt"/>
<text x="373.20000000000005" y="350.0" font-size="11.00" text-anchor="middle" font-weight="normal" fill="#000" stroke="#000" stroke-width="0.55">3</text>
<line x1="393.30" y1="335.60" x2="393.30" y2="332.60" stroke="#333" stroke-width="1.2" stroke-linecap="butt"/>
<text x="393.90000000000003" y="350.0" font-size="11.00" text-anchor="middle" font-weight="normal" fill="#000" stroke="#000" stroke-width="0.55">4</text>
<line x1="414.00" y1="335.60" x2="414.00" y2="332.60" stroke="#333" stroke-width="1.2" stroke-linecap="butt"/>
<text x="414.6" y="350.0" font-size="11.00" text-anchor="middle" font-weight="normal" fill="#000" stroke="#000" stroke-width="0.55">5</text>
<line x1="434.70" y1="335.60" x2="434.70" y2="332.60" stroke="#333" stroke-width="1.2" stroke-linecap="butt"/>
<text x="435.3" y="350.0" font-size="11.00" text-anchor="middle" font-weight="normal" fill="#000" stroke="#000" stroke-width="0.55">6</text>
<line x1="455.40" y1="335.60" x2="455.40" y2="332.60" stroke="#333" stroke-width="1.2" stroke-linecap="butt"/>
<text x="456.0" y="350.0" font-size="11.00" text-anchor="middle" font-weight="normal" fill="#000" stroke="#000" stroke-width="0.55">7</text>
<line x1="476.10" y1="335.60" x2="476.10" y2="332.60" stroke="#333" stroke-width="1.2" stroke-linecap="butt"/>
<text x="476.70000000000005" y="350.0" font-size="11.00" text-anchor="middle" font-weight="normal" fill="#000" stroke="#000" stroke-width="0.55">8</text>
<line x1="496.80" y1="335.60" x2="496.80" y2="332.60" stroke="#333" stroke-width="1.2" stroke-linecap="butt"/>
<text x="497.4" y="350.0" font-size="11.00" text-anchor="middle" font-weight="normal" fill="#000" stroke="#000" stroke-width="0.55">9</text>
<text x="414.6" y="366.79999999999995" font-size="13.91" text-anchor="middle" font-weight="normal" fill="#000" stroke="#000" stroke-width="0.6" transform="translate(414.6 366.79999999999995) scale(0.9709 1) translate(-414.6 -366.79999999999995)">Weeks post-BMT</text>
<text x="292.3" y="276.9" font-size="13.80" text-anchor="middle" font-weight="normal" fill="#000" stroke="#000" stroke-width="0.6" transform="rotate(-90 292.3 276.9) translate(292.3 276.9) scale(0.9709 1) translate(-292.3 -276.9)">Clinical GVHD Scores</text>
<line x1="331.90" y1="288.60" x2="331.90" y2="309.00" stroke="#000" stroke-width="1.4" stroke-linecap="butt"/>
<line x1="328.80" y1="288.60" x2="335.00" y2="288.60" stroke="#000" stroke-width="1.4" stroke-linecap="butt"/>
<line x1="328.80" y1="309.00" x2="335.00" y2="309.00" stroke="#000" stroke-width="1.4" stroke-linecap="butt"/>
<line x1="352.30" y1="264.20" x2="352.30" y2="288.40" stroke="#000" stroke-width="1.4" stroke-linecap="butt"/>
<line x1="349.20" y1="264.20" x2="355.40" y2="264.20" stroke="#000" stroke-width="1.4" stroke-linecap="butt"/>
<line x1="349.20" y1="288.40" x2="355.40" y2="288.40" stroke="#000" stroke-width="1.4" stroke-linecap="butt"/>
<line x1="373.20" y1="237.70" x2="373.20" y2="271.50" stroke="#000" stroke-width="1.4" stroke-linecap="butt"/>
<line x1="370.10" y1="237.70" x2="376.30" y2="237.70" stroke="#000" stroke-width="1.4" stroke-linecap="butt"/>
<line x1="370.10" y1="271.50" x2="376.30" y2="271.50" stroke="#000" stroke-width="1.4" stroke-linecap="butt"/>
<line x1="394.70" y1="237.70" x2="394.70" y2="266.20" stroke="#000" stroke-width="1.4" stroke-linecap="butt"/>
<line x1="391.60" y1="237.70" x2="397.80" y2="237.70" stroke="#000" stroke-width="1.4" stroke-linecap="butt"/>
<line x1="391.60" y1="266.20" x2="397.80" y2="266.20" stroke="#000" stroke-width="1.4" stroke-linecap="butt"/>
<line x1="415.00" y1="226.20" x2="415.00" y2="271.20" stroke="#000" stroke-width="1.4" stroke-linecap="butt"/>
<line x1="411.90" y1="226.20" x2="418.10" y2="226.20" stroke="#000" stroke-width="1.4" stroke-linecap="butt"/>
<line x1="411.90" y1="271.20" x2="418.10" y2="271.20" stroke="#000" stroke-width="1.4" stroke-linecap="butt"/>
<line x1="332.30" y1="298.00" x2="332.30" y2="311.60" stroke="#000" stroke-width="1.4" stroke-linecap="butt"/>
<line x1="329.20" y1="298.00" x2="335.40" y2="298.00" stroke="#000" stroke-width="1.4" stroke-linecap="butt"/>
<line x1="329.20" y1="311.60" x2="335.40" y2="311.60" stroke="#000" stroke-width="1.4" stroke-linecap="butt"/>
<line x1="352.20" y1="288.40" x2="352.20" y2="305.60" stroke="#000" stroke-width="1.4" stroke-linecap="butt"/>
<line x1="349.10" y1="288.40" x2="355.30" y2="288.40" stroke="#000" stroke-width="1.4" stroke-linecap="butt"/>
<line x1="349.10" y1="305.60" x2="355.30" y2="305.60" stroke="#000" stroke-width="1.4" stroke-linecap="butt"/>
<line x1="372.70" y1="282.50" x2="372.70" y2="313.80" stroke="#000" stroke-width="1.4" stroke-linecap="butt"/>
<line x1="369.60" y1="282.50" x2="375.80" y2="282.50" stroke="#000" stroke-width="1.4" stroke-linecap="butt"/>
<line x1="369.60" y1="313.80" x2="375.80" y2="313.80" stroke="#000" stroke-width="1.4" stroke-linecap="butt"/>
<line x1="394.20" y1="276.20" x2="394.20" y2="309.70" stroke="#000" stroke-width="1.4" stroke-linecap="butt"/>
<line x1="391.10" y1="276.20" x2="397.30" y2="276.20" stroke="#000" stroke-width="1.4" stroke-linecap="butt"/>
<line x1="391.10" y1="309.70" x2="397.30" y2="309.70" stroke="#000" stroke-width="1.4" stroke-linecap="butt"/>
<line x1="414.70" y1="283.10" x2="414.70" y2="313.80" stroke="#000" stroke-width="1.4" stroke-linecap="butt"/>
<line x1="411.60" y1="283.10" x2="417.80" y2="283.10" stroke="#000" stroke-width="1.4" stroke-linecap="butt"/>
<line x1="411.60" y1="313.80" x2="417.80" y2="313.80" stroke="#000" stroke-width="1.4" stroke-linecap="butt"/>
<line x1="435.20" y1="277.30" x2="435.20" y2="313.80" stroke="#000" stroke-width="1.4" stroke-linecap="butt"/>
<line x1="432.10" y1="277.30" x2="438.30" y2="277.30" stroke="#000" stroke-width="1.4" stroke-linecap="butt"/>
<line x1="432.10" y1="313.80" x2="438.30" y2="313.80" stroke="#000" stroke-width="1.4" stroke-linecap="butt"/>
<line x1="456.70" y1="266.00" x2="456.70" y2="303.50" stroke="#000" stroke-width="1.4" stroke-linecap="butt"/>
<line x1="453.60" y1="266.00" x2="459.80" y2="266.00" stroke="#000" stroke-width="1.4" stroke-linecap="butt"/>
<line x1="453.60" y1="303.50" x2="459.80" y2="303.50" stroke="#000" stroke-width="1.4" stroke-linecap="butt"/>
<line x1="476.50" y1="269.40" x2="476.50" y2="305.60" stroke="#000" stroke-width="1.4" stroke-linecap="butt"/>
<line x1="473.40" y1="269.40" x2="479.60" y2="269.40" stroke="#000" stroke-width="1.4" stroke-linecap="butt"/>
<line x1="473.40" y1="305.60" x2="479.60" y2="305.60" stroke="#000" stroke-width="1.4" stroke-linecap="butt"/>
<line x1="498.30" y1="264.30" x2="498.30" y2="297.70" stroke="#000" stroke-width="1.4" stroke-linecap="butt"/>
<line x1="495.20" y1="264.30" x2="501.40" y2="264.30" stroke="#000" stroke-width="1.4" stroke-linecap="butt"/>
<line x1="495.20" y1="297.70" x2="501.40" y2="297.70" stroke="#000" stroke-width="1.4" stroke-linecap="butt"/>
<polyline points="310.80,334.00 331.90,298.20 352.30,275.50 373.20,256.90 394.70,253.50 415.00,250.00" fill="none" stroke="#000" stroke-width="3.0" stroke-linejoin="miter" stroke-linecap="butt" stroke-dasharray="5.5 2.5"/>
<polyline points="310.80,334.00 332.30,305.00 352.20,296.40 372.70,297.70 394.20,293.70 414.70,297.70 435.20,296.70 456.70,284.80 476.50,288.50 498.30,280.70" fill="none" stroke="#000" stroke-width="3.0" stroke-linejoin="round" stroke-linecap="butt"/>
<circle cx="331.90" cy="298.20" r="3.8" fill="#000" stroke="#000" stroke-width="0"/>
<circle cx="352.30" cy="275.50" r="3.8" fill="#000" stroke="#000" stroke-width="0"/>
<circle cx="373.20" cy="256.90" r="3.8" fill="#000" stroke="#000" stroke-width="0"/>
<circle cx="394.70" cy="253.50" r="3.8" fill="#000" stroke="#000" stroke-width="0"/>
<circle cx="415.00" cy="250.00" r="3.8" fill="#000" stroke="#000" stroke-width="0"/>
<circle cx="332.30" cy="305.00" r="3.5" fill="#fff" stroke="#000" stroke-width="2.0"/>
<circle cx="352.20" cy="296.40" r="3.5" fill="#fff" stroke="#000" stroke-width="2.0"/>
<circle cx="372.70" cy="297.70" r="3.5" fill="#fff" stroke="#000" stroke-width="2.0"/>
<circle cx="394.20" cy="293.70" r="3.5" fill="#fff" stroke="#000" stroke-width="2.0"/>
<circle cx="414.70" cy="297.70" r="3.5" fill="#fff" stroke="#000" stroke-width="2.0"/>
<circle cx="435.20" cy="296.70" r="3.5" fill="#fff" stroke="#000" stroke-width="2.0"/>
<circle cx="456.70" cy="284.80" r="3.5" fill="#fff" stroke="#000" stroke-width="2.0"/>
<circle cx="476.50" cy="288.50" r="3.5" fill="#fff" stroke="#000" stroke-width="2.0"/>
<circle cx="498.30" cy="280.70" r="3.5" fill="#fff" stroke="#000" stroke-width="2.0"/>
<circle cx="310.80" cy="334.00" r="3.6" fill="#000" stroke="#000" stroke-width="0"/>
<text x="359.4" y="231.20000000000002" font-size="15.90" text-anchor="start" font-weight="normal" fill="#000" stroke="#000" stroke-width="0.6" transform="translate(359.4 231.20000000000002) scale(0.9434 1) translate(-359.4 -231.20000000000002)">Allo-Mn</text>
<line x1="423.90" y1="239.80" x2="423.90" y2="246.80" stroke="#000" stroke-width="1.5" stroke-linecap="butt"/>
<line x1="420.87" y1="241.55" x2="426.93" y2="245.05" stroke="#000" stroke-width="1.5" stroke-linecap="butt"/>
<line x1="426.93" y1="241.55" x2="420.87" y2="245.05" stroke="#000" stroke-width="1.5" stroke-linecap="butt"/>
<circle cx="423.90" cy="243.30" r="1.3" fill="#000" stroke="#000" stroke-width="0"/>
<text x="480.4" y="316.9" font-size="15.90" text-anchor="start" font-weight="normal" fill="#000" stroke="#000" stroke-width="0.6" transform="translate(480.4 316.9) scale(0.9434 1) translate(-480.4 -316.9)">Allo</text>
<text x="-0.3" y="390.6" font-size="18.00" text-anchor="start" font-weight="bold" fill="#000" stroke="#000" stroke-width="0.2">E</text>
<line x1="35.00" y1="403.00" x2="35.00" y2="524.50" stroke="#333" stroke-width="1.3" stroke-linecap="butt"/>
<line x1="34.40" y1="523.90" x2="236.70" y2="523.90" stroke="#333" stroke-width="1.3" stroke-linecap="butt"/>
<text x="32.6" y="527.5" font-size="11.00" text-anchor="end" font-weight="normal" fill="#000" stroke="#000" stroke-width="0.6">0</text>
<line x1="35.00" y1="499.80" x2="39.50" y2="499.80" stroke="#333" stroke-width="1.2" stroke-linecap="butt"/>
<text x="32.6" y="503.7" font-size="11.00" text-anchor="end" font-weight="normal" fill="#000" stroke="#000" stroke-width="0.6">20</text>
<line x1="35.00" y1="475.50" x2="39.50" y2="475.50" stroke="#333" stroke-width="1.2" stroke-linecap="butt"/>
<text x="32.6" y="479.4" font-size="11.00" text-anchor="end" font-weight="normal" fill="#000" stroke="#000" stroke-width="0.6">40</text>
<line x1="35.00" y1="451.20" x2="39.50" y2="451.20" stroke="#333" stroke-width="1.2" stroke-linecap="butt"/>
<text x="32.6" y="455.59999999999997" font-size="11.00" text-anchor="end" font-weight="normal" fill="#000" stroke="#000" stroke-width="0.6">60</text>
<line x1="35.00" y1="426.90" x2="39.50" y2="426.90" stroke="#333" stroke-width="1.2" stroke-linecap="butt"/>
<text x="32.6" y="430.79999999999995" font-size="11.00" text-anchor="end" font-weight="normal" fill="#000" stroke="#000" stroke-width="0.6">80</text>
<text x="32.6" y="407.4" font-size="11.00" text-anchor="end" font-weight="normal" fill="#000" stroke="#000" stroke-width="0.6">100</text>
<text x="35.300000000000004" y="534.8" font-size="11.00" text-anchor="middle" font-weight="normal" fill="#000" stroke="#000" stroke-width="0.55">0</text>
<line x1="62.84" y1="523.90" x2="62.84" y2="520.90" stroke="#333" stroke-width="1.2" stroke-linecap="butt"/>
<text x="63.440000000000005" y="534.8" font-size="11.00" text-anchor="middle" font-weight="normal" fill="#000" stroke="#000" stroke-width="0.55">2</text>
<line x1="90.98" y1="523.90" x2="90.98" y2="520.90" stroke="#333" stroke-width="1.2" stroke-linecap="butt"/>
<text x="91.58" y="534.8" font-size="11.00" text-anchor="middle" font-weight="normal" fill="#000" stroke="#000" stroke-width="0.55">4</text>
<line x1="119.12" y1="523.90" x2="119.12" y2="520.90" stroke="#333" stroke-width="1.2" stroke-linecap="butt"/>
<text x="119.72" y="534.8" font-size="11.00" text-anchor="middle" font-weight="normal" fill="#000" stroke="#000" stroke-width="0.55">6</text>
<line x1="147.26" y1="523.90" x2="147.26" y2="520.90" stroke="#333" stroke-width="1.2" stroke-linecap="butt"/>
<text x="147.85999999999999" y="534.8" font-size="11.00" text-anchor="middle" font-weight="normal" fill="#000" stroke="#000" stroke-width="0.55">8</text>
<line x1="175.40" y1="523.90" x2="175.40" y2="520.90" stroke="#333" stroke-width="1.2" stroke-linecap="butt"/>
<text x="175.99999999999997" y="534.8" font-size="11.00" text-anchor="middle" font-weight="normal" fill="#000" stroke="#000" stroke-width="0.55">10</text>
<line x1="203.54" y1="523.90" x2="203.54" y2="520.90" stroke="#333" stroke-width="1.2" stroke-linecap="butt"/>
<text x="204.14000000000001" y="534.8" font-size="11.00" text-anchor="middle" font-weight="normal" fill="#000" stroke="#000" stroke-width="0.55">12</text>
<line x1="231.68" y1="523.90" x2="231.68" y2="520.90" stroke="#333" stroke-width="1.2" stroke-linecap="butt"/>
<text x="232.28" y="534.8" font-size="11.00" text-anchor="middle" font-weight="normal" fill="#000" stroke="#000" stroke-width="0.55">14</text>
<text x="135.1" y="553.6999999999999" font-size="13.91" text-anchor="middle" font-weight="normal" fill="#000" stroke="#000" stroke-width="0.6" transform="translate(135.1 553.6999999999999) scale(0.9709 1) translate(-135.1 -553.6999999999999)">Weeks post-BMT</text>
<text x="14.8" y="463.1" font-size="13.80" text-anchor="middle" font-weight="normal" fill="#000" stroke="#000" stroke-width="0.6" transform="rotate(-90 14.8 463.1) translate(14.8 463.1) scale(0.9709 1) translate(-14.8 -463.1)">Survival Rate (%)</text>
<polyline points="35.00,405.80 64.20,405.80 64.20,441.00 86.00,441.00 86.00,465.00 102.40,465.00 102.40,476.50 107.50,476.50 107.50,498.40 159.50,498.40 159.50,510.50 236.50,510.50" fill="none" stroke="#000" stroke-width="3.0" stroke-linejoin="miter" stroke-linecap="butt" stroke-dasharray="5 2.5"/>
<polyline points="35.00,405.80 54.50,405.80 54.50,438.50 63.80,438.50 63.80,457.00 70.20,457.00 70.20,472.50 72.20,472.50 72.20,488.20 74.90,488.20 74.90,507.80 92.20,507.80 92.20,522.00" fill="none" stroke="#000" stroke-width="3.0" stroke-linejoin="miter" stroke-linecap="butt" stroke-dasharray="5 2.5"/>
<polyline points="35.00,406.40 60.80,406.40 60.80,418.20 72.30,418.20 72.30,429.50 78.30,429.50 78.30,441.50 85.80,441.50 85.80,452.50 88.80,452.50 88.80,466.20 106.30,466.20 106.30,489.30 109.70,489.30 109.70,500.50 133.00,500.50 133.00,513.20 235.50,513.20" fill="none" stroke="#000" stroke-width="3.0" stroke-linejoin="miter" stroke-linecap="butt"/>
<polyline points="35.00,404.70 76.30,404.70 76.30,426.00 91.30,426.00 91.30,465.00 127.70,465.00 127.70,486.20 146.90,486.20 146.90,504.40 235.50,504.40" fill="none" stroke="#000" stroke-width="3.0" stroke-linejoin="miter" stroke-linecap="butt"/>
<circle cx="54.40" cy="438.50" r="3.6" fill="#000" stroke="#000" stroke-width="0"/>
<circle cx="63.80" cy="457.00" r="3.6" fill="#000" stroke="#000" stroke-width="0"/>
<circle cx="69.00" cy="472.50" r="3.6" fill="#000" stroke="#000" stroke-width="0"/>
<circle cx="70.70" cy="488.20" r="3.6" fill="#000" stroke="#000" stroke-width="0"/>
<circle cx="76.00" cy="507.80" r="3.6" fill="#000" stroke="#000" stroke-width="0"/>
<circle cx="91.90" cy="521.50" r="3.6" fill="#000" stroke="#000" stroke-width="0"/>
<polygon points="70.30,436.30 74.80,440.80 70.30,445.30 65.80,440.80" fill="#000" stroke="#000" stroke-width="0"/>
<polygon points="84.70,460.60 89.20,465.10 84.70,469.60 80.20,465.10" fill="#000" stroke="#000" stroke-width="0"/>
<polygon points="101.10,472.00 105.60,476.50 101.10,481.00 96.60,476.50" fill="#000" stroke="#000" stroke-width="0"/>
<polygon points="106.90,495.80 111.40,500.30 106.90,504.80 102.40,500.30" fill="#000" stroke="#000" stroke-width="0"/>
<polygon points="159.20,507.90 163.70,512.40 159.20,516.90 154.70,512.40" fill="#000" stroke="#000" stroke-width="0"/>
<polygon points="60.80,414.90 64.00,418.10 60.80,421.30 57.60,418.10" fill="#fff" stroke="#000" stroke-width="2.2"/>
<polygon points="70.30,426.00 73.50,429.20 70.30,432.40 67.10,429.20" fill="#fff" stroke="#000" stroke-width="2.2"/>
<polygon points="76.50,438.30 79.70,441.50 76.50,444.70 73.30,441.50" fill="#fff" stroke="#000" stroke-width="2.2"/>
<polygon points="83.80,449.30 87.00,452.50 83.80,455.70 80.60,452.50" fill="#fff" stroke="#000" stroke-width="2.2"/>
<polygon points="103.10,486.00 106.30,489.20 103.10,492.40 99.90,489.20" fill="#fff" stroke="#000" stroke-width="2.2"/>
<polygon points="110.80,497.60 114.00,500.80 110.80,504.00 107.60,500.80" fill="#fff" stroke="#000" stroke-width="2.2"/>
<polygon points="132.30,510.10 135.50,513.30 132.30,516.50 129.10,513.30" fill="#fff" stroke="#000" stroke-width="2.2"/>
<polygon points="236.30,507.90 241.10,512.70 236.30,517.50 231.50,512.70" fill="#000" stroke="#000" stroke-width="0"/>
<circle cx="235.60" cy="513.30" r="1.2" fill="#fff" stroke="#000" stroke-width="0"/>
<circle cx="75.40" cy="426.20" r="2.8" fill="#fff" stroke="#000" stroke-width="1.9"/>
<circle cx="90.30" cy="465.50" r="2.8" fill="#fff" stroke="#000" stroke-width="1.9"/>
<circle cx="127.70" cy="486.20" r="2.8" fill="#fff" stroke="#000" stroke-width="1.9"/>
<circle cx="146.40" cy="504.80" r="2.8" fill="#fff" stroke="#000" stroke-width="1.9"/>
<circle cx="235.50" cy="504.90" r="2.9" fill="#fff" stroke="#000" stroke-width="1.7"/>
<text x="114.0" y="463.2" font-size="14.84" text-anchor="start" font-weight="normal" fill="#000" stroke="#000" stroke-width="0.6" transform="translate(114.0 463.2) scale(0.9434 1) translate(-114.0 -463.2)">WT</text>
<text x="188.0" y="486.0" font-size="13.39" text-anchor="start" font-weight="normal" fill="#000" stroke="#000" stroke-width="0.6" transform="translate(188.0 486.0) scale(0.9709 1) translate(-188.0 -486.0)">Dectin-2<tspan font-size="8.1" dy="-4.3">-/-</tspan></text>
<text x="164.8" y="500.2" font-size="13.39" text-anchor="start" font-weight="normal" fill="#000" stroke="#000" stroke-width="0.6" transform="translate(164.8 500.2) scale(0.9709 1) translate(-164.8 -500.2)">Dectin-2<tspan font-size="8.1" dy="-4.3">-/-</tspan><tspan dy="4.3">-Mn</tspan></text>
<text x="44.6" y="502.29999999999995" font-size="14.84" text-anchor="start" font-weight="normal" fill="#000" stroke="#000" stroke-width="0.6" transform="translate(44.6 502.29999999999995) scale(0.9434 1) translate(-44.6 -502.29999999999995)">WT</text>
<text x="43.6" y="514.0" font-size="14.84" text-anchor="start" font-weight="normal" fill="#000" stroke="#000" stroke-width="0.6" transform="translate(43.6 514.0) scale(0.9434 1) translate(-43.6 -514.0)">-Mn</text>
<line x1="75.30" y1="514.80" x2="75.30" y2="521.80" stroke="#000" stroke-width="1.5" stroke-linecap="butt"/>
<line x1="72.27" y1="516.55" x2="78.33" y2="520.05" stroke="#000" stroke-width="1.5" stroke-linecap="butt"/>
<line x1="78.33" y1="516.55" x2="72.27" y2="520.05" stroke="#000" stroke-width="1.5" stroke-linecap="butt"/>
<circle cx="75.30" cy="518.30" r="1.3" fill="#000" stroke="#000" stroke-width="0"/>
<line x1="83.40" y1="514.80" x2="83.40" y2="521.80" stroke="#000" stroke-width="1.5" stroke-linecap="butt"/>
<line x1="80.37" y1="516.55" x2="86.43" y2="520.05" stroke="#000" stroke-width="1.5" stroke-linecap="butt"/>
<line x1="86.43" y1="516.55" x2="80.37" y2="520.05" stroke="#000" stroke-width="1.5" stroke-linecap="butt"/>
<circle cx="83.40" cy="518.30" r="1.3" fill="#000" stroke="#000" stroke-width="0"/>
<text x="271.6" y="390.6" font-size="18.00" text-anchor="start" font-weight="bold" fill="#000" stroke="#000" stroke-width="0.2">F</text>
<line x1="310.70" y1="398.00" x2="310.70" y2="522.40" stroke="#333" stroke-width="1.3" stroke-linecap="butt"/>
<line x1="310.10" y1="521.80" x2="513.20" y2="521.80" stroke="#333" stroke-width="1.3" stroke-linecap="butt"/>
<text x="308.0" y="524.0" font-size="11.00" text-anchor="end" font-weight="normal" fill="#000" stroke="#000" stroke-width="0.6">0</text>
<line x1="310.70" y1="497.00" x2="315.20" y2="497.00" stroke="#333" stroke-width="1.2" stroke-linecap="butt"/>
<text x="308.0" y="501.0" font-size="11.00" text-anchor="end" font-weight="normal" fill="#000" stroke="#000" stroke-width="0.6">20</text>
<line x1="310.70" y1="474.30" x2="315.20" y2="474.30" stroke="#333" stroke-width="1.2" stroke-linecap="butt"/>
<text x="308.0" y="477.29999999999995" font-size="11.00" text-anchor="end" font-weight="normal" fill="#000" stroke="#000" stroke-width="0.6">40</text>
<line x1="310.70" y1="451.40" x2="315.20" y2="451.40" stroke="#333" stroke-width="1.2" stroke-linecap="butt"/>
<text x="308.0" y="453.5" font-size="11.00" text-anchor="end" font-weight="normal" fill="#000" stroke="#000" stroke-width="0.6">60</text>
<line x1="310.70" y1="424.90" x2="315.20" y2="424.90" stroke="#333" stroke-width="1.2" stroke-linecap="butt"/>
<text x="308.0" y="429.7" font-size="11.00" text-anchor="end" font-weight="normal" fill="#000" stroke="#000" stroke-width="0.6">80</text>
<text x="308.0" y="406.09999999999997" font-size="11.00" text-anchor="end" font-weight="normal" fill="#000" stroke="#000" stroke-width="0.6">100</text>
<text x="310.6" y="534.6" font-size="11.00" text-anchor="middle" font-weight="normal" fill="#000" stroke="#000" stroke-width="0.55">0</text>
<line x1="338.40" y1="521.80" x2="338.40" y2="518.80" stroke="#333" stroke-width="1.2" stroke-linecap="butt"/>
<text x="339.0" y="534.6" font-size="11.00" text-anchor="middle" font-weight="normal" fill="#000" stroke="#000" stroke-width="0.55">2</text>
<line x1="366.80" y1="521.80" x2="366.80" y2="518.80" stroke="#333" stroke-width="1.2" stroke-linecap="butt"/>
<text x="367.40000000000003" y="534.6" font-size="11.00" text-anchor="middle" font-weight="normal" fill="#000" stroke="#000" stroke-width="0.55">4</text>
<line x1="395.20" y1="521.80" x2="395.20" y2="518.80" stroke="#333" stroke-width="1.2" stroke-linecap="butt"/>
<text x="395.8" y="534.6" font-size="11.00" text-anchor="middle" font-weight="normal" fill="#000" stroke="#000" stroke-width="0.55">6</text>
<line x1="423.60" y1="521.80" x2="423.60" y2="518.80" stroke="#333" stroke-width="1.2" stroke-linecap="butt"/>
<text x="424.20000000000005" y="534.6" font-size="11.00" text-anchor="middle" font-weight="normal" fill="#000" stroke="#000" stroke-width="0.55">8</text>
<line x1="452.00" y1="521.80" x2="452.00" y2="518.80" stroke="#333" stroke-width="1.2" stroke-linecap="butt"/>
<text x="452.6" y="534.6" font-size="11.00" text-anchor="middle" font-weight="normal" fill="#000" stroke="#000" stroke-width="0.55">10</text>
<line x1="480.40" y1="521.80" x2="480.40" y2="518.80" stroke="#333" stroke-width="1.2" stroke-linecap="butt"/>
<text x="481.0" y="534.6" font-size="11.00" text-anchor="middle" font-weight="normal" fill="#000" stroke="#000" stroke-width="0.55">12</text>
<line x1="508.80" y1="521.80" x2="508.80" y2="518.80" stroke="#333" stroke-width="1.2" stroke-linecap="butt"/>
<text x="509.4" y="534.6" font-size="11.00" text-anchor="middle" font-weight="normal" fill="#000" stroke="#000" stroke-width="0.55">14</text>
<text x="411.5" y="553.1" font-size="13.91" text-anchor="middle" font-weight="normal" fill="#000" stroke="#000" stroke-width="0.6" transform="translate(411.5 553.1) scale(0.9709 1) translate(-411.5 -553.1)">Weeks post-BMT</text>
<text x="291.2" y="462.5" font-size="13.80" text-anchor="middle" font-weight="normal" fill="#000" stroke="#000" stroke-width="0.6" transform="rotate(-90 291.2 462.5) translate(291.2 462.5) scale(0.9709 1) translate(-291.2 -462.5)">Survival Rate (%)</text>
<polyline points="310.70,400.00 336.00,400.00 336.00,416.50 338.60,416.50 338.60,459.90 348.40,459.90 348.40,492.80 355.50,492.80 355.50,505.60 374.60,505.60 374.60,521.00" fill="none" stroke="#000" stroke-width="3.0" stroke-linejoin="miter" stroke-linecap="butt" stroke-dasharray="5 2.5"/>
<polyline points="310.70,400.00 337.40,400.00 337.40,460.00 341.70,460.00 341.70,476.60 343.00,476.60 343.00,492.50 351.50,492.50 351.50,505.60 361.60,505.60 361.60,521.00" fill="none" stroke="#000" stroke-width="3.0" stroke-linejoin="miter" stroke-linecap="butt" stroke-dasharray="5 2.5"/>
<polyline points="310.70,400.60 340.30,400.60 340.30,417.60 361.30,417.60 361.30,428.70 388.40,428.70 388.40,443.30 419.30,443.30 419.30,459.50 444.90,459.50 444.90,477.00 466.60,477.00 466.60,492.60 515.50,492.60" fill="none" stroke="#000" stroke-width="3.0" stroke-linejoin="miter" stroke-linecap="butt"/>
<polyline points="310.70,399.00 355.80,399.00 355.80,417.80 378.50,417.80 378.50,437.00 423.70,437.00 423.70,453.00 449.70,453.00 449.70,471.40 514.60,471.40" fill="none" stroke="#000" stroke-width="3.0" stroke-linejoin="miter" stroke-linecap="butt"/>
<circle cx="338.60" cy="460.20" r="3.6" fill="#000" stroke="#000" stroke-width="0"/>
<circle cx="341.30" cy="476.70" r="3.6" fill="#000" stroke="#000" stroke-width="0"/>
<circle cx="344.20" cy="492.20" r="3.6" fill="#000" stroke="#000" stroke-width="0"/>
<circle cx="351.00" cy="505.60" r="3.6" fill="#000" stroke="#000" stroke-width="0"/>
<circle cx="361.60" cy="520.40" r="3.6" fill="#000" stroke="#000" stroke-width="0"/>
<polygon points="333.70,412.20 337.90,416.40 333.70,420.60 329.50,416.40" fill="#000" stroke="#000" stroke-width="0"/>
<polygon points="337.90,440.80 342.10,445.00 337.90,449.20 333.70,445.00" fill="#000" stroke="#000" stroke-width="0"/>
<polygon points="347.90,489.00 352.10,493.20 347.90,497.40 343.70,493.20" fill="#000" stroke="#000" stroke-width="0"/>
<polygon points="354.80,502.20 359.00,506.40 354.80,510.60 350.60,506.40" fill="#000" stroke="#000" stroke-width="0"/>
<polygon points="374.60,516.20 378.80,520.40 374.60,524.60 370.40,520.40" fill="#000" stroke="#000" stroke-width="0"/>
<polygon points="339.80,413.50 343.10,416.80 339.80,420.10 336.50,416.80" fill="#fff" stroke="#000" stroke-width="2.1"/>
<polygon points="361.20,427.70 364.50,431.00 361.20,434.30 357.90,431.00" fill="#fff" stroke="#000" stroke-width="2.1"/>
<polygon points="388.00,442.20 391.30,445.50 388.00,448.80 384.70,445.50" fill="#fff" stroke="#000" stroke-width="2.1"/>
<polygon points="417.80,457.70 421.10,461.00 417.80,464.30 414.50,461.00" fill="#fff" stroke="#000" stroke-width="2.1"/>
<polygon points="443.80,473.60 447.10,476.90 443.80,480.20 440.50,476.90" fill="#fff" stroke="#000" stroke-width="2.1"/>
<polygon points="465.60,488.90 468.90,492.20 465.60,495.50 462.30,492.20" fill="#fff" stroke="#000" stroke-width="2.1"/>
<polygon points="515.40,489.10 518.70,492.40 515.40,495.70 512.10,492.40" fill="#fff" stroke="#000" stroke-width="2.1"/>
<circle cx="356.40" cy="417.90" r="3.3" fill="#fff" stroke="#000" stroke-width="1.8"/>
<circle cx="377.70" cy="435.70" r="3.3" fill="#fff" stroke="#000" stroke-width="1.8"/>
<circle cx="423.10" cy="452.20" r="3.3" fill="#fff" stroke="#000" stroke-width="1.8"/>
<circle cx="449.10" cy="469.90" r="3.3" fill="#fff" stroke="#000" stroke-width="1.8"/>
<circle cx="514.80" cy="471.20" r="3.3" fill="#fff" stroke="#000" stroke-width="1.8"/>
<text x="515.5" y="465.29999999999995" font-size="14.84" text-anchor="end" font-weight="normal" fill="#000" stroke="#000" stroke-width="0.6" transform="translate(515.5 465.29999999999995) scale(0.9434 1) translate(-515.5 -465.29999999999995)">WT</text>
<text x="459.5" y="506.7" font-size="13.39" text-anchor="start" font-weight="normal" fill="#000" stroke="#000" stroke-width="0.6" transform="translate(459.5 506.7) scale(0.9709 1) translate(-459.5 -506.7)">Dectin-2<tspan font-size="8.1" dy="-4.3">-/-</tspan></text>
<text x="377.8" y="518.6" font-size="13.39" text-anchor="start" font-weight="normal" fill="#000" stroke="#000" stroke-width="0.6" transform="translate(377.8 518.6) scale(0.9709 1) translate(-377.8 -518.6)">Dectin-2<tspan font-size="8.1" dy="-4.3">-/-</tspan><tspan dy="4.3">-Mn</tspan></text>
<text x="322.2" y="506.09999999999997" font-size="12.72" text-anchor="start" font-weight="normal" fill="#000" stroke="#000" stroke-width="0.6" transform="translate(322.2 506.09999999999997) scale(0.9434 1) translate(-322.2 -506.09999999999997)">WT</text>
<text x="321.3" y="517.4" font-size="12.72" text-anchor="start" font-weight="normal" fill="#000" stroke="#000" stroke-width="0.6" transform="translate(321.3 517.4) scale(0.9434 1) translate(-321.3 -517.4)">-Mn</text>
</svg>
</body></html>
